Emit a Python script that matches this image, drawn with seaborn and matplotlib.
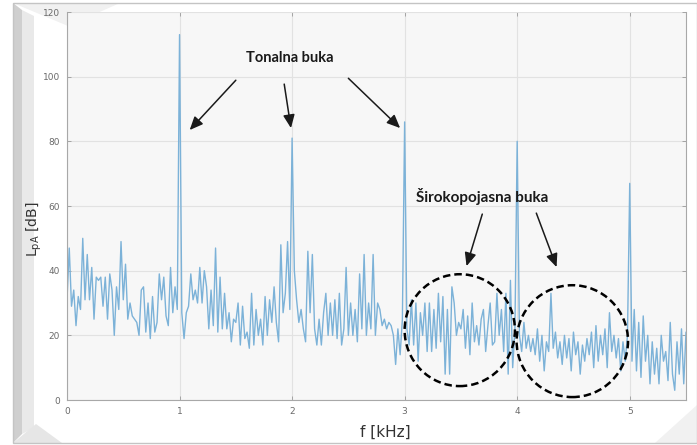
import numpy as np
import matplotlib
matplotlib.use("Agg")
import matplotlib.pyplot as plt
import seaborn as sns
from matplotlib.patches import Ellipse, Polygon, Rectangle

# noise floor, 0.02 kHz steps, tonal peaks in between
noise_0_1 = [31, 47, 29, 34, 23, 32, 28, 50, 31, 45, 31, 41, 25, 38, 37, 38, 29, 38, 25, 39,
             34, 20, 35, 28, 49, 31, 42, 25, 30, 26, 25, 24, 20, 34, 35, 21, 30, 19, 32, 21,
             24, 39, 31, 38, 26, 23, 41, 27, 35, 28]
noise_1_2 = [27, 19, 27, 29, 39, 31, 34, 30, 41, 30, 40, 35, 22, 34, 23, 47, 21, 38, 22, 33,
             22, 27, 18, 25, 24, 30, 17, 29, 19, 21, 16, 33, 17, 28, 20, 25, 17, 32, 20, 31,
             24, 35, 24, 18, 48, 27, 33, 49, 28]
noise_2_3 = [40, 31, 24, 28, 22, 18, 46, 27, 45, 22, 17, 25, 17, 27, 33, 20, 30, 20, 31, 19,
             33, 17, 22, 41, 20, 30, 20, 28, 18, 39, 22, 45, 20, 30, 22, 45, 20, 30, 28, 23,
             25, 22, 24, 23, 20, 11, 22, 14, 25]
noise_3_4 = [22, 17, 31, 17, 30, 12, 27, 20, 30, 15, 30, 15, 28, 16, 33, 18, 32, 8, 28, 8,
             35, 30, 20, 24, 22, 28, 16, 26, 14, 30, 18, 23, 17, 25, 28, 15, 23, 30, 17, 18,
             33, 20, 28, 15, 33, 8, 37, 10, 22]
noise_4_5 = [20, 15, 24, 16, 20, 15, 19, 14, 22, 12, 20, 9, 18, 15, 33, 16, 21, 13, 18, 11,
             20, 13, 19, 9, 21, 14, 18, 8, 17, 12, 19, 14, 21, 10, 23, 12, 20, 14, 22, 10,
             27, 15, 20, 13, 19, 9, 18, 12, 20]
noise_5_55 = [12, 28, 9, 24, 7, 26, 12, 20, 5, 18, 8, 16, 5, 20, 12, 15, 6, 24, 8, 3,
              18, 8, 22, 5, 21]
tonal_peaks = [113, 81, 86, 80, 67]   # at 1, 2, 3, 4, 5 kHz

segments = [noise_0_1, noise_1_2, noise_2_3, noise_3_4, noise_4_5]
level = []
for seg, peak in zip(segments, tonal_peaks):
    level += seg + [peak]
level += noise_5_55
freq = np.arange(len(level)) * 0.02

sns.set_style("ticks")
plt.rcParams["font.family"] = ["DejaVu Sans"]

W, H = 697, 445
fig = plt.figure(figsize=(W / 100, H / 100), dpi=100)
fig.patch.set_facecolor("white")

# bevelled picture frame, in pixel coords
def px(pts):
    return [(x / W, 1 - y / H) for x, y in pts]

def frame_piece(pts, color):
    fig.patches.append(Polygon(px(pts), closed=True, transform=fig.transFigure,
                               facecolor=color, edgecolor="none", zorder=-2))

frame_piece([(13, 3), (22, 10), (22, 434), (13, 443)], "#cfcfcf")
frame_piece([(22, 10), (34, 16), (34, 428), (22, 434)], "#e9e9e9")
frame_piece([(13, 3), (120, 3), (68, 26)], "#f1f1f1")
frame_piece([(13, 443), (36, 424), (62, 443)], "#e6e6e6")
frame_piece([(655, 443), (697, 405), (697, 443)], "#f1f1f1")
fig.patches.append(Rectangle((13 / W, 1 - 443 / H), (W - 13) / W, 440 / H,
                             transform=fig.transFigure, fill=False,
                             edgecolor="#c4c4c4", linewidth=1, zorder=-1))

ax = fig.add_axes([67 / W, 1 - 400 / H, (686 - 67) / W, (400 - 12) / H])
ax.set_facecolor("#f7f7f7")

sns.lineplot(x=freq, y=level, ax=ax, color="#7cb2d8", linewidth=1.0)

ax.set_xlim(0, 5.5)
ax.set_ylim(0, 120)
ax.set_xticks([0, 1, 2, 3, 4, 5])
ax.set_yticks([0, 20, 40, 60, 80, 100, 120])
ax.grid(True, color="#e2e2e2", linewidth=0.8)
ax.tick_params(direction="in", length=3, width=0.6, colors="#9a9a9a",
               labelsize=6.5, labelcolor="#6a6a6a", top=True, right=True, pad=5)
for side in ["left", "bottom", "right"]:
    ax.spines[side].set_color("#a8a8a8")
    ax.spines[side].set_linewidth(0.8)
ax.spines["top"].set_visible(False)

ax.set_xlabel("f [kHz]", fontsize=11, color="#333333")
ax.xaxis.set_label_coords((385 - 67) / 619, (400 - 425) / 388)
ax.set_ylabel("L$_{\\mathrm{pA}}$ [dB]", fontsize=10, color="#333333")
ax.yaxis.set_label_coords((44 - 67) / 619, 0.44)

# dashed circles around broadband noise
ax.add_patch(Ellipse((3.49, 21.6), 0.98, 34.6, fill=False, edgecolor="black",
                     linestyle=(0, (3, 1.6)), linewidth=1.8, zorder=5))
ax.add_patch(Ellipse((4.49, 18.2), 0.99, 34.6, fill=False, edgecolor="black",
                     linestyle=(0, (3, 1.6)), linewidth=1.8, zorder=5))

arrow = dict(arrowstyle="-|>,head_length=0.8,head_width=0.35", color="#1a1a1a",
             linewidth=1.1, shrinkA=0, shrinkB=0)
ax.text(1.98, 105.7, "Tonalna buka", ha="center", va="center",
        fontsize=10.5, fontweight="bold", family=["Lato", "DejaVu Sans"], color="#1a1a1a")
for start, end in [((1.50, 98.9), (1.09, 83.5)),
                   ((1.93, 97.7), (1.99, 84.1)),
                   ((2.50, 99.5), (2.96, 84.1))]:
    ax.annotate("", xy=end, xytext=start, arrowprops=arrow)

ax.text(3.69, 62.8, "Širokopojasna buka", ha="center", va="center",
        fontsize=11, fontweight="bold", family=["Lato", "DejaVu Sans"], color="#1a1a1a")
for start, end in [((3.69, 57.5), (3.55, 41.4)),
                   ((4.17, 57.8), (4.35, 41.1))]:
    ax.annotate("", xy=end, xytext=start, arrowprops=arrow)

fig.savefig("out.png", dpi=100)
